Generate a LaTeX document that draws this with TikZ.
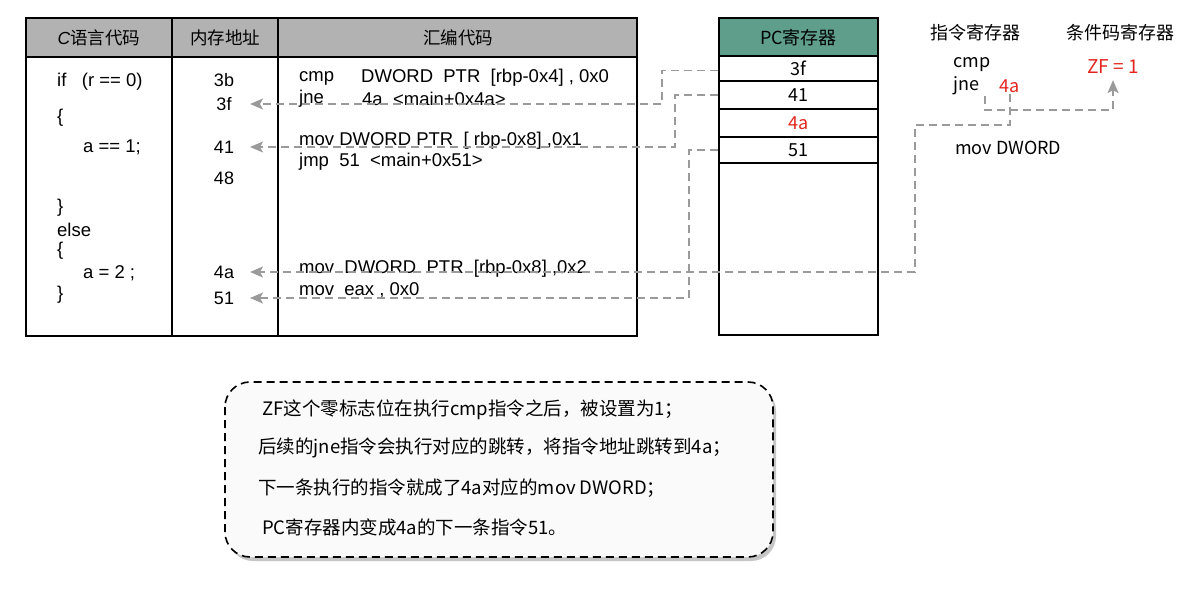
\documentclass[tikz,border=0pt]{standalone}
\usepackage{fontspec}
\setmainfont{Liberation Sans}
\newfontfamily\cjk{Noto Sans CJK SC}
\usetikzlibrary{arrows.meta}

\definecolor{headgray}{HTML}{B2B2B2}
\definecolor{pcgreen}{HTML}{5E9E8A}
\definecolor{linkgray}{HTML}{9A9A9A}
\definecolor{notered}{HTML}{E2261F}

\tikzset{
  frame/.style={draw=black, line width=1.6pt},
  code/.style={anchor=west, inner sep=0pt, font=\fontsize{18.5}{20}\selectfont},
  addr/.style={inner sep=1pt, font=\fontsize{18}{20}\selectfont},
  head/.style={font=\cjk\fontsize{17.5}{20}\selectfont},
  hand/.style={inner sep=1pt, font=\cjk\fontsize{18}{20}\selectfont},
  pcrow/.style={frame, fill=white, minimum width=159pt, inner sep=0pt,
    font=\cjk\fontsize{18}{20}\selectfont},
  link/.style={draw=linkgray, line width=1.8pt, dash pattern=on 8pt off 5pt},
  tipped/.style={link, -{Stealth[length=13pt,width=11pt,inset=3pt]}},
  note/.style={anchor=west, inner sep=0pt, font=\cjk\fontsize{18.5}{21}\selectfont},
}

\begin{document}
\begin{tikzpicture}[x=1pt,y=-1pt]
\useasboundingbox (0,0) rectangle (1182,609);

% left table: C code, addresses, assembly
\fill[headgray] (26,18) rectangle (637,57);
\draw[frame] (26,18) rectangle (637,336);
\draw[frame] (26,57) -- (637,57);
\draw[frame] (172,18) -- (172,336);
\draw[frame] (278,18) -- (278,336);
\node[head] (hc) at (99,38) {{\rmfamily\itshape C}语言代码};
\node[head] (hmem) at (225,38) {内存地址};
\node[head] (hasm) at (458,38) {汇编代码};

% C code
\node[code] (c1) at (57,82) {if\ \ \ (r == 0)};
\node[code] (c2) at (57,118) {\{};
\node[code] (c3) at (83,147) {a == 1;};
\node[code] (c4) at (57,208) {\}};
\node[code] (c5) at (57,230) {else};
\node[code] (c6) at (57,251) {\{};
\node[code] (c7) at (83,273) {a = 2 ;};
\node[code] (c8) at (57,295) {\}};

% addresses
\node[addr] (a3b) at (224,80) {3b};
\node[addr] (a3f) at (224,104) {3f};
\node[addr] (a41) at (224,147) {41};
\node[addr] (a48) at (224,178) {48};
\node[addr] (a4a) at (224,272) {4a};
\node[addr] (a51) at (224,298) {51};

% assembly
\node[code] (s1) at (299,78) {cmp};
\node[code] (s1b) at (361,78) {DWORD\ \ PTR\ \ [rbp-0x4] , 0x0};
\node[code] (s2) at (299,99) {jne};
\node[code] (s2b) at (362,99) {4a\ \ <main+0x4a>};
\node[code] (s3) at (299,141) {mov DWORD PTR\ \ [ rbp-0x8] ,0x1};
\node[code] (s4) at (299,162) {jmp\ \ 51\ \ <main+0x51>};
\node[code] (s5) at (299,269) {mov\ \ DWORD\ \ PTR\ \ [rbp-0x8] ,0x2};
\node[code] (s6) at (299,290) {mov\ \ eax , 0x0};

% PC register
\fill[pcgreen] (719,18) rectangle (878,56);
\draw[frame] (719,18) rectangle (878,335);
\node[hand] (hpc) at (798.5,38) {PC寄存器};
\node[pcrow, minimum height=25pt] (pc3f) at (798.5,68.5) {3f};
\node[pcrow, minimum height=28pt] (pc41) at (798.5,95) {41};
\node[pcrow, minimum height=28pt, text=notered] (pc4a) at (798.5,123) {4a};
\node[pcrow, minimum height=26pt] (pc51) at (798.5,150) {51};

% instruction and condition registers
\node[head, font=\cjk\fontsize{18}{20}\selectfont] (hir) at (975,33) {指令寄存器};
\node[head, font=\cjk\fontsize{18}{20}\selectfont] (hcc) at (1120,33) {条件码寄存器};
\node[hand, anchor=west] (ircmp) at (952,65) {cmp};
\node[hand, anchor=west] (irjne) at (952,86) {jne};
\node[hand, text=notered] (ir4a) at (1010,86) {4a};
\node[hand, text=notered, font=\cjk\fontsize{19}{21}\selectfont] (zf) at (1113,67) {ZF = 1};
\node[hand, anchor=west] (irmov) at (954,148) {mov DWORD};

% jumps back to the addresses
\coordinate (tip) at (250,0);
\coordinate (jnebend) at (985,110);
\coordinate (jmpbend) at (915,125);
\draw[tipped] ([yshift=-2pt]pc3f.west) -- ++(-56,0) |- (a3f -| tip);
\draw[tipped] (pc41.west) -- ++(-43,0) |- (a41 -| tip);
\draw[tipped] (pc51.west) -- ++(-29,0) |- (a51 -| tip);
\draw[tipped] (ir4a.south) |- (jmpbend) |- (a4a -| tip);
\draw[tipped, shorten >=5pt] (jnebend |- irjne.south) -- (jnebend) -| (zf.south);

% note
\fill[gray!45, rounded corners=25pt] (228,386) rectangle (776,561);
\draw[fill=gray!4, line width=1.6pt, dash pattern=on 8pt off 5pt, rounded corners=25pt]
  (225,382) rectangle (773,557);
\node[note] (n1) at (262,410) {ZF这个零标志位在执行cmp指令之后，被设置为1；};
\node[note] (n2) at (258,448) {后续的jne指令会执行对应的跳转，将指令地址跳转到4a；};
\node[note] (n3) at (258,488) {下一条执行的指令就成了4a对应的mov DWORD；};
\node[note] (n4) at (262,527) {PC寄存器内变成4a的下一条指令51。};
\end{tikzpicture}
\end{document}
